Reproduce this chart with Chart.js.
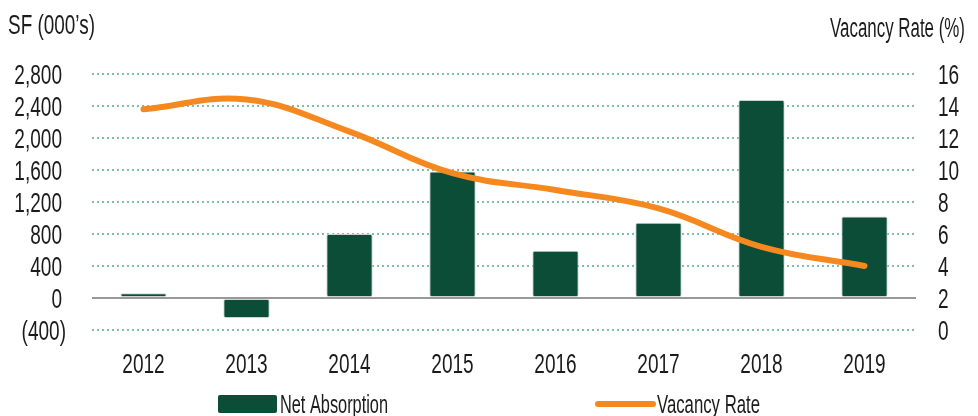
<!DOCTYPE html>
<html>
<head>
<meta charset="utf-8">
<script src="https://cdn.jsdelivr.net/npm/chart.js@4/dist/chart.umd.min.js"></script>
<style>
  html, body { margin: 0; padding: 0; background: #fff; }
  #wrap { width: 978px; height: 416px; }
</style>
</head>
<body>
<div id="wrap"><canvas id="chart" width="978" height="416"></canvas></div>
<script>
const years = ["2012", "2013", "2014", "2015", "2016", "2017", "2018", "2019"];
const netAbsorption = [60, -250, 800, 1580, 590, 940, 2475, 1020];
const vacancyRate = [13.8, 14.4, 12.4, 9.8, 8.75, 7.6, 5.2, 4.0];
const leftTicks = [-400, 0, 400, 800, 1200, 1600, 2000, 2400, 2800];
const rightTicks = [0, 2, 4, 6, 8, 10, 12, 14, 16];

const FONT = "'Liberation Sans', Arial, sans-serif";
const TEXT = "#1b1b1b";
const GREEN = "#0c4d37";
const ORANGE = "#f5891f";
const SQUEEZE = 0.68; // no condensed face installed, so squeeze by hand

Chart.defaults.font.family = FONT;
Chart.defaults.color = TEXT;

const fmtSF = (v) => {
  const s = Math.abs(v).toLocaleString("en-US");
  return v < 0 ? "(" + s + ")" : s;
};

// draw text squeezed horizontally; fitW forces a given width
function narrowText(ctx, text, x, y, align, size, fitW) {
  ctx.font = size + "px " + FONT;
  const w = ctx.measureText(text).width;
  const sx = fitW ? fitW / w : SQUEEZE;
  ctx.save();
  ctx.translate(x, y);
  ctx.scale(sx, 1);
  ctx.textAlign = align;
  ctx.textBaseline = "alphabetic";
  ctx.fillText(text, 0, 0);
  ctx.restore();
}

// tick labels, axis titles and legend
const extras = {
  id: "extras",
  afterDraw(chart) {
    const ctx = chart.ctx;
    const { x, y, y1 } = chart.scales;
    ctx.save();
    ctx.fillStyle = TEXT;

    y.ticks.forEach((t, i) => {
      const py = y.getPixelForTick(i);
      narrowText(ctx, fmtSF(t.value), t.value < 0 ? 66 : 62, py + 10, "right", 28);
    });
    y1.ticks.forEach((t, i) => {
      const py = y1.getPixelForTick(i);
      narrowText(ctx, String(t.value), 938, py + 10, "left", 28);
    });
    x.ticks.forEach((t, i) => {
      const px = x.getPixelForTick(i);
      narrowText(ctx, years[i], px, 373, "center", 28);
    });

    narrowText(ctx, "SF (000\u2019s)", 8, 34, "left", 27, 87);
    narrowText(ctx, "Vacancy Rate (%)", 965, 37, "right", 27, 135);

    // legend
    ctx.fillStyle = GREEN;
    ctx.beginPath();
    ctx.roundRect(218, 395, 59, 18, 2);
    ctx.fill();
    ctx.fillStyle = TEXT;
    narrowText(ctx, "Net Absorption", 280, 413, "left", 25, 108);

    ctx.strokeStyle = ORANGE;
    ctx.lineWidth = 6;
    ctx.lineCap = "round";
    ctx.beginPath();
    ctx.moveTo(598, 404);
    ctx.lineTo(653, 404);
    ctx.stroke();
    narrowText(ctx, "Vacancy Rate", 657, 413, "left", 25, 103);
    ctx.restore();
  },
};

new Chart(document.getElementById("chart"), {
  data: {
    labels: years,
    datasets: [
      {
        type: "line",
        label: "Vacancy Rate",
        data: vacancyRate,
        yAxisID: "y1",
        borderColor: ORANGE,
        backgroundColor: ORANGE,
        borderWidth: 6,
        borderCapStyle: "round",
        tension: 0.4,
        pointRadius: 0,
        order: 0,
      },
      {
        type: "bar",
        label: "Net Absorption",
        data: netAbsorption,
        yAxisID: "y",
        backgroundColor: GREEN,
        borderColor: "#c9d6cf",
        borderWidth: 1,
        borderRadius: 2,
        borderSkipped: false,
        barPercentage: 0.45,
        categoryPercentage: 1,
        order: 1,
      },
    ],
  },
  options: {
    responsive: false,
    animation: false,
    layout: { padding: { top: 74, left: 0, right: 0, bottom: 0 } },
    plugins: {
      legend: { display: false },
      tooltip: { enabled: false },
    },
    scales: {
      x: {
        grid: { display: false, drawTicks: false },
        border: { display: false },
        ticks: { display: false },
        afterFit: (s) => { s.height = 86; },
      },
      y: {
        position: "left",
        min: -400,
        max: 2800,
        afterBuildTicks: (s) => { s.ticks = leftTicks.map((v) => ({ value: v })); },
        ticks: { display: false },
        grid: {
          drawTicks: false,
          color: (c) => (c.tick && c.tick.value === 0 ? "#999999" : "#7fbfaa"),
          lineWidth: 2,
        },
        border: {
          display: false,
          dash: (c) => (c.tick && c.tick.value === 0 ? [] : [2, 3]),
        },
        afterFit: (s) => { s.width = 92; },
      },
      y1: {
        position: "right",
        min: 0,
        max: 16,
        afterBuildTicks: (s) => { s.ticks = rightTicks.map((v) => ({ value: v })); },
        ticks: { display: false },
        grid: { display: false, drawTicks: false },
        border: { display: false },
        afterFit: (s) => { s.width = 62; },
      },
    },
  },
  plugins: [extras],
});
</script>
</body>
</html>
